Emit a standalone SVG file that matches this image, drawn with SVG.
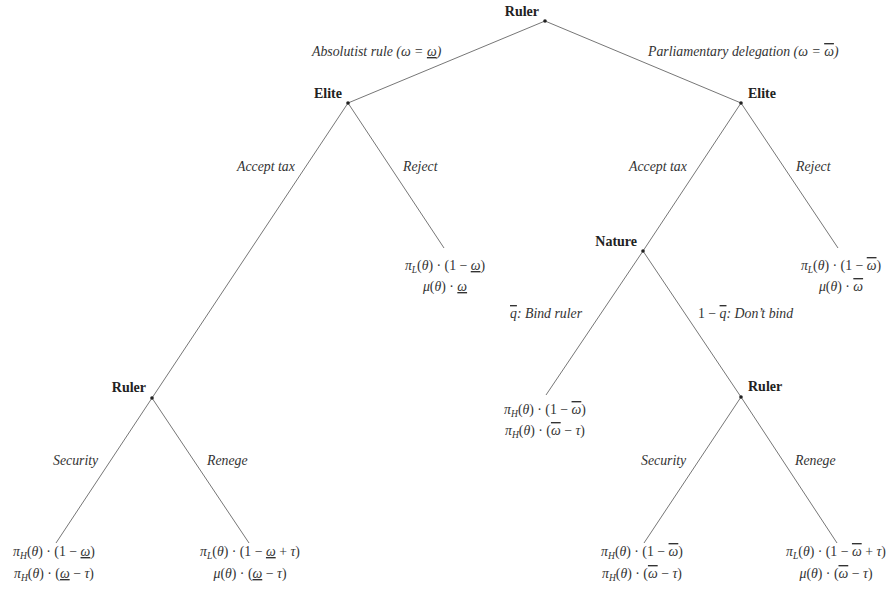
<svg xmlns="http://www.w3.org/2000/svg" width="894" height="589" viewBox="0 0 894 589">
<style>
.bg{fill:#fff}
.e{stroke:#666;stroke-width:0.9;fill:none}
.dot{fill:#222}
.nl{font-family:"Liberation Serif","Times New Roman",serif;font-weight:bold;font-size:14px;fill:#222}
.bl{font-family:"Liberation Serif","Times New Roman",serif;font-style:italic;font-size:13.8px;fill:#333}
.pf{font-family:"Liberation Serif","Times New Roman",serif;font-size:13.8px;fill:#333;text-anchor:middle}
.sb{font-size:9.5px;font-style:italic}
.it{font-style:italic}
.u{text-decoration:underline}
.o{text-decoration:overline}
</style>
<rect class="bg" x="0" y="0" width="894" height="589"/>
<g id="connectors">
<line class="e" x1="545" y1="21" x2="348" y2="103"/>
<line class="e" x1="545" y1="21" x2="741" y2="103"/>
<line class="e" x1="348" y1="103" x2="152" y2="398"/>
<line class="e" x1="348" y1="103" x2="444" y2="248"/>
<line class="e" x1="741" y1="103" x2="643" y2="251"/>
<line class="e" x1="741" y1="103" x2="838" y2="248"/>
<line class="e" x1="643" y1="251" x2="546" y2="395"/>
<line class="e" x1="643" y1="251" x2="741" y2="397"/>
<line class="e" x1="152" y1="398" x2="56" y2="543"/>
<line class="e" x1="152" y1="398" x2="249" y2="543"/>
<line class="e" x1="741" y1="397" x2="644" y2="543"/>
<line class="e" x1="741" y1="397" x2="837" y2="543"/>
</g>
<g id="edge-labels">
<text class="bl" x="312" y="56">Absolutist rule (<tspan>ω</tspan> = <tspan class="u">ω</tspan>)</text>
<text class="bl" x="648" y="56">Parliamentary delegation (ω = <tspan class="o">ω</tspan>)</text>
<text class="bl" x="237" y="171">Accept tax</text>
<text class="bl" x="403" y="171">Reject</text>
<text class="bl" x="629" y="171">Accept tax</text>
<text class="bl" x="796" y="171">Reject</text>
<text class="bl" x="510" y="318"><tspan class="o">q</tspan>:  Bind ruler</text>
<text class="bl" x="698" y="318"><tspan font-style="normal">1 − </tspan><tspan class="o">q</tspan>:  Don’t bind</text>
<text class="bl" x="53" y="465">Security</text>
<text class="bl" x="207" y="465">Renege</text>
<text class="bl" x="641" y="465">Security</text>
<text class="bl" x="795" y="465">Renege</text>
</g>
<g id="n-root"><circle class="dot" cx="545" cy="21" r="1.8"/><text class="nl" x="539" y="16" text-anchor="end">Ruler</text></g>
<g id="n-elite-left"><circle class="dot" cx="348" cy="103" r="1.8"/><text class="nl" x="342" y="98" text-anchor="end">Elite</text></g>
<g id="n-elite-right"><circle class="dot" cx="741" cy="103" r="1.8"/><text class="nl" x="748" y="98">Elite</text></g>
<g id="n-nature"><circle class="dot" cx="643" cy="251" r="1.8"/><text class="nl" x="637" y="246" text-anchor="end">Nature</text></g>
<g id="n-ruler-left"><circle class="dot" cx="152" cy="398" r="1.8"/><text class="nl" x="146" y="392" text-anchor="end">Ruler</text></g>
<g id="n-ruler-right"><circle class="dot" cx="741" cy="397" r="1.8"/><text class="nl" x="748" y="391">Ruler</text></g>
<g id="p-reject-left">
<text class="pf" x="445" y="270"><tspan class="it">π</tspan><tspan class="sb" dy="3">L</tspan><tspan dy="-3">(<tspan class="it">θ</tspan>) · (1 − <tspan class="u it">ω</tspan>)</tspan></text>
<text class="pf" x="445" y="291"><tspan class="it">μ</tspan>(<tspan class="it">θ</tspan>) · <tspan class="u it">ω</tspan></text>
</g>
<g id="p-reject-right">
<text class="pf" x="841" y="270"><tspan class="it">π</tspan><tspan class="sb" dy="3">L</tspan><tspan dy="-3">(<tspan class="it">θ</tspan>) · (1 − <tspan class="o it">ω</tspan>)</tspan></text>
<text class="pf" x="841" y="291"><tspan class="it">μ</tspan>(<tspan class="it">θ</tspan>) · <tspan class="o it">ω</tspan></text>
</g>
<g id="p-bind">
<text class="pf" x="545" y="414"><tspan class="it">π</tspan><tspan class="sb" dy="3">H</tspan><tspan dy="-3">(<tspan class="it">θ</tspan>) · (1 − <tspan class="o it">ω</tspan>)</tspan></text>
<text class="pf" x="545" y="435"><tspan class="it">π</tspan><tspan class="sb" dy="3">H</tspan><tspan dy="-3">(<tspan class="it">θ</tspan>) · (<tspan class="o it">ω</tspan> − <tspan class="it">τ</tspan>)</tspan></text>
</g>
<g id="p-sec-left">
<text class="pf" x="54" y="556"><tspan class="it">π</tspan><tspan class="sb" dy="3">H</tspan><tspan dy="-3">(<tspan class="it">θ</tspan>) · (1 − <tspan class="u it">ω</tspan>)</tspan></text>
<text class="pf" x="54" y="578"><tspan class="it">π</tspan><tspan class="sb" dy="3">H</tspan><tspan dy="-3">(<tspan class="it">θ</tspan>) · (<tspan class="u it">ω</tspan> − <tspan class="it">τ</tspan>)</tspan></text>
</g>
<g id="p-ren-left">
<text class="pf" x="250" y="556"><tspan class="it">π</tspan><tspan class="sb" dy="3">L</tspan><tspan dy="-3">(<tspan class="it">θ</tspan>) · (1 − <tspan class="u it">ω</tspan> + <tspan class="it">τ</tspan>)</tspan></text>
<text class="pf" x="250" y="578"><tspan class="it">μ</tspan>(<tspan class="it">θ</tspan>) · (<tspan class="u it">ω</tspan> − <tspan class="it">τ</tspan>)</text>
</g>
<g id="p-sec-right">
<text class="pf" x="642" y="556"><tspan class="it">π</tspan><tspan class="sb" dy="3">H</tspan><tspan dy="-3">(<tspan class="it">θ</tspan>) · (1 − <tspan class="o it">ω</tspan>)</tspan></text>
<text class="pf" x="642" y="578"><tspan class="it">π</tspan><tspan class="sb" dy="3">H</tspan><tspan dy="-3">(<tspan class="it">θ</tspan>) · (<tspan class="o it">ω</tspan> − <tspan class="it">τ</tspan>)</tspan></text>
</g>
<g id="p-ren-right">
<text class="pf" x="836" y="556"><tspan class="it">π</tspan><tspan class="sb" dy="3">L</tspan><tspan dy="-3">(<tspan class="it">θ</tspan>) · (1 − <tspan class="o it">ω</tspan> + <tspan class="it">τ</tspan>)</tspan></text>
<text class="pf" x="836" y="578"><tspan class="it">μ</tspan>(<tspan class="it">θ</tspan>) · (<tspan class="o it">ω</tspan> − <tspan class="it">τ</tspan>)</text>
</g>
</svg>
